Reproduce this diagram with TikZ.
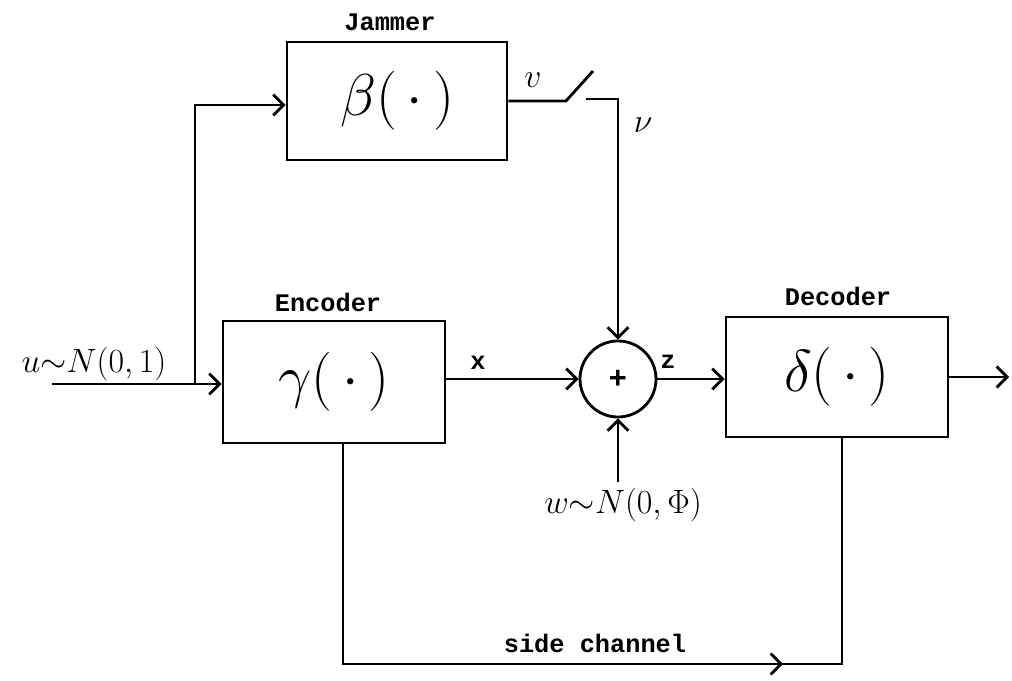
\RequirePackage{fix-cm}
\documentclass[tikz,border=0pt]{standalone}
\usepackage{fontspec}
\setmonofont{Liberation Mono}
\usepackage{tikz}
\usetikzlibrary{arrows.meta}
\tikzset{
  >={Straight Barb[length=2.6mm,width=5.2mm]},
  flow/.style={->, line width=2pt},
  wire/.style={line width=2pt},
  blockbox/.style={
    draw,
    line width=2pt,
    minimum width=5.55cm,
    minimum height=3.05cm,
    font=\fontsize{42}{46}\selectfont
  },
  sumnode/.style={
    draw,
    circle,
    line width=2pt,
    minimum size=1.9cm,
    inner sep=0pt,
    font=\ttfamily\bfseries\fontsize{22}{24}\selectfont
  },
  ttlabel/.style={font=\ttfamily\bfseries\fontsize{18}{20}\selectfont, inner sep=0pt},
  mathlabel/.style={font=\fontsize{24}{28}\selectfont, inner sep=0pt}
}

\begin{document}
\begin{tikzpicture}[x=0.025cm,y=-0.025cm]
      \useasboundingbox (0,0) rectangle (1012,681);

      % blocks
      \node[blockbox,minimum width=5.5cm,minimum height=2.95cm]
        (jammer) at (397,101) {$\beta(\,\cdot\,)$};
      \node[blockbox]
        (encoder) at (334,382) {$\gamma(\,\cdot\,)$};
      \node[blockbox,minimum height=3.0cm]
        (decoder) at (837,377) {$\delta(\,\cdot\,)$};
      \node[sumnode]
        (adder) at (618,379) {+};

      \node[ttlabel] (jamtitle) at (390,22) {Jammer};
      \node[ttlabel] (enctitle) at (328,302) {Encoder};
      \node[ttlabel] (dectitle) at (838,296) {Decoder};

      % free ends
      \coordinate (source) at (52,384);
      \coordinate (branch) at (195,384);
      \coordinate (swpivot) at (566,101);
      \coordinate (swtip) at (593,71);
      \coordinate (swcontact) at (586,99);
      \coordinate (noise) at (618,482);
      \coordinate (sink) at (1009,377);
      \coordinate (sidemid) at (783,664);

      \draw[flow] (source) -- (encoder.west |- source);
      \draw[flow] (branch) |- ([yshift=-0.1cm]jammer.west);
      \draw[wire] (jammer.east) -- (swpivot) -- (swtip);
      \draw[flow] (swcontact) -| (adder.north);
      \draw[flow] (encoder.east |- adder) -- (adder.west);
      \draw[flow] (noise) -- (adder.south);
      \draw[flow] (adder.east) -- (decoder.west |- adder);
      \draw[flow] (decoder.east) -- (sink);
      \draw[flow] ([xshift=0.225cm]encoder.south) |- (sidemid);
      \draw[wire] (sidemid) -| ([xshift=0.125cm]decoder.south);

      % signal labels
      \node[mathlabel] (ulabel) at (94,364) {$u{\sim}N(0,1)$};
      \node[mathlabel] (wlabel) at (623,505) {$w{\sim}N(0,\Phi)$};
      \node[mathlabel] (vlabel) at (533,80) {$v$};
      \node[mathlabel] (nulabel) at (643,125) {$\nu$};
      \node[ttlabel] (xlabel) at (478,363) {x};
      \node[ttlabel] (zlabel) at (668,362) {z};
      \node[ttlabel] (sidelabel) at (595,643) {side channel};
\end{tikzpicture}
\end{document}
